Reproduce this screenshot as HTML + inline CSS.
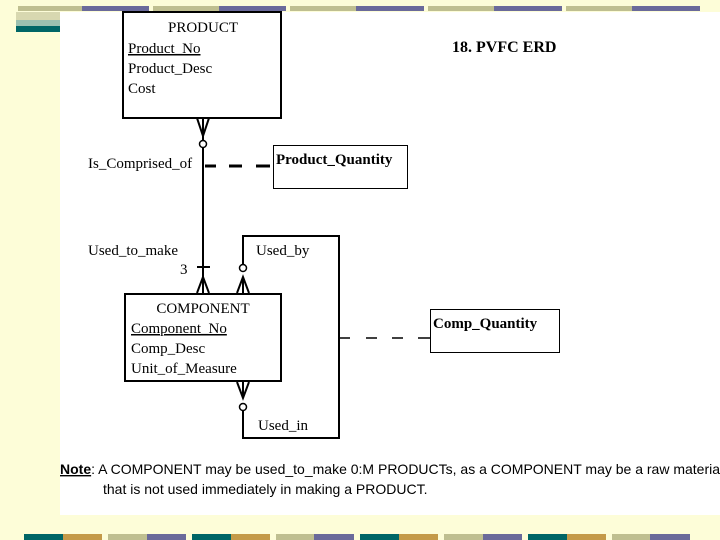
<!DOCTYPE html>
<html><head><meta charset="utf-8"><style>
body{margin:0;width:720px;height:540px;background:#fdfdd8;overflow:hidden;position:relative}
</style></head><body>
<svg width="720" height="540" style="position:absolute;left:0;top:0" font-family="Liberation Serif, serif">
<rect x="60" y="12" width="660" height="503" fill="#fff"/>
<g>
<rect x="18" y="6" width="64" height="5" fill="#bfbf90"/><rect x="82" y="6" width="67" height="5" fill="#6a6a9a"/>
<rect x="153" y="6" width="66" height="5" fill="#bfbf90"/><rect x="219" y="6" width="67" height="5" fill="#6a6a9a"/>
<rect x="290" y="6" width="66" height="5" fill="#bfbf90"/><rect x="356" y="6" width="68" height="5" fill="#6a6a9a"/>
<rect x="428" y="6" width="66" height="5" fill="#bfbf90"/><rect x="494" y="6" width="68" height="5" fill="#6a6a9a"/>
<rect x="566" y="6" width="66" height="5" fill="#bfbf90"/><rect x="632" y="6" width="68" height="5" fill="#6a6a9a"/>
<rect x="16" y="12" width="44" height="8" fill="#d8d8b0"/><rect x="16" y="20" width="44" height="6" fill="#9cc0b0"/><rect x="16" y="26" width="44" height="6" fill="#006666"/>
</g>
<g>
<rect x="24" y="534" width="39" height="6" fill="#006666"/><rect x="63" y="534" width="39" height="6" fill="#c49a48"/>
<rect x="108" y="534" width="39" height="6" fill="#bfbf90"/><rect x="147" y="534" width="39" height="6" fill="#6a6a9a"/>
<rect x="192" y="534" width="39" height="6" fill="#006666"/><rect x="231" y="534" width="39" height="6" fill="#c49a48"/>
<rect x="276" y="534" width="38" height="6" fill="#bfbf90"/><rect x="314" y="534" width="40" height="6" fill="#6a6a9a"/>
<rect x="360" y="534" width="39" height="6" fill="#006666"/><rect x="399" y="534" width="39" height="6" fill="#c49a48"/>
<rect x="444" y="534" width="39" height="6" fill="#bfbf90"/><rect x="483" y="534" width="39" height="6" fill="#6a6a9a"/>
<rect x="528" y="534" width="39" height="6" fill="#006666"/><rect x="567" y="534" width="39" height="6" fill="#c49a48"/>
<rect x="612" y="534" width="38" height="6" fill="#bfbf90"/><rect x="650" y="534" width="40" height="6" fill="#6a6a9a"/>
</g>
<g stroke="#000" fill="none">
<rect x="123" y="12" width="158" height="106" stroke-width="2"/>
<rect x="125" y="294" width="156" height="87" stroke-width="2"/>
<rect x="273.5" y="145.5" width="134" height="43"/>
<rect x="430.5" y="309.5" width="129" height="43"/>
<g stroke-width="2">
<line x1="203" y1="118" x2="203" y2="293"/>
<path d="M197 118 L203 136 L209 118 M203 118 V136"/>
<line x1="197" y1="267" x2="210" y2="267"/>
<path d="M197 293 L203 277 L209 293 M203 277 V293"/>
<path d="M243 264 V236 H339 V438 H243 V411"/>
<path d="M237 293 L243 277 L249 293 M243 277 V293"/>
<path d="M237 382 L243 398 L249 382 M243 382 V398"/>
<path d="M205 166 H216 M229 166 H242 M256 166 H270" stroke-width="3"/>
<path d="M339 338 H350 M366 338 H377 M392 338 H403 M418 338 H430" stroke-width="1.5"/>
</g>
<circle cx="203" cy="144" r="3.5" fill="#fff" stroke-width="1.5"/>
<circle cx="243" cy="268" r="3.5" fill="#fff" stroke-width="1.5"/>
<circle cx="243" cy="407" r="3.5" fill="#fff" stroke-width="1.5"/>
</g>
<g font-size="15" fill="#000">
<text x="203" y="32" text-anchor="middle">PRODUCT</text>
<text x="128" y="53" text-decoration="underline">Product_No</text>
<text x="128" y="73">Product_Desc</text>
<text x="128" y="93">Cost</text>
<text x="203" y="313" text-anchor="middle">COMPONENT</text>
<text x="131" y="333" text-decoration="underline">Component_No</text>
<text x="131" y="353">Comp_Desc</text>
<text x="131" y="373">Unit_of_Measure</text>
<text x="276" y="164" font-weight="bold" font-size="15">Product_Quantity</text>
<text x="433" y="328" font-weight="bold" font-size="15">Comp_Quantity</text>
<text x="88" y="168" font-size="15">Is_Comprised_of</text>
<text x="88" y="255" font-size="15">Used_to_make</text>
<text x="180" y="274" font-size="15">3</text>
<text x="256" y="255" font-size="15">Used_by</text>
<text x="258" y="430" font-size="15">Used_in</text>
<text x="452" y="52" font-size="16" font-weight="bold">18. PVFC ERD</text>
</g>
<g font-family="Liberation Sans, sans-serif" font-size="14" fill="#000">
<text x="60" y="474"><tspan text-decoration="underline" font-weight="bold">Note</tspan>:  A COMPONENT may be used_to_make 0:M PRODUCTs, as a COMPONENT may be a raw material</text>
<text x="103" y="494">that is not used immediately in making a PRODUCT.</text>
</g>
</svg>
</body></html>
